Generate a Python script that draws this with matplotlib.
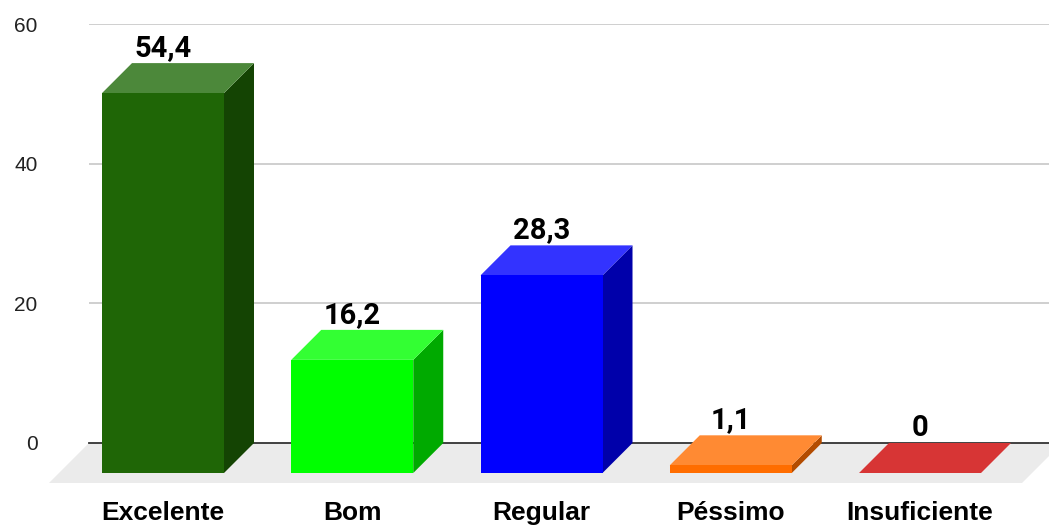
import matplotlib
matplotlib.use('Agg')
import matplotlib.pyplot as plt
from matplotlib.patches import Polygon, Rectangle

# data
categories = ['Excelente', 'Bom', 'Regular', 'Péssimo', 'Insuficiente']
values = [54.4, 16.2, 28.3, 1.1, 0]
value_labels = ['54,4', '16,2', '28,3', '1,1', '0']
yticks = [0, 20, 40, 60]

# front / top / side colours for each bar
front_colors = ['#1f6606', '#00ff00', '#0000ff', '#ff6d00', '#d73535']
top_colors = ['#4c883a', '#33ff33', '#3333ff', '#ff8a33', '#d73535']
side_colors = ['#144403', '#00aa00', '#0000aa', '#b34c00', '#a02525']

W, H = 1049, 525
fig = plt.figure(figsize=(W / 100, H / 100), dpi=100)
fig.patch.set_facecolor('white')

# back plane of the 3d box: y=0 at px 443, y=60 at px 24
ax = fig.add_axes([89 / W, (H - 443) / H, 960 / W, (443 - 24) / H])
ax.set_xlim(-0.5495, 4.523)
ax.set_ylim(0, 60)
for s in ax.spines.values():
    s.set_visible(False)

# pixel -> data unit conversion
p0 = ax.transData.transform((0, 0))
p1 = ax.transData.transform((1, 1))
px_x = p1[0] - p0[0]
px_y = p1[1] - p0[1]
dx = 30 / px_x   # depth of bars
dy = 30 / px_y
bw = 122 / px_x  # bar width

# gridlines
for t in yticks[1:]:
    ax.axhline(t, color='#cccccc', lw=1.3, zorder=1)

# floor
fd_x = 40 / px_x
fd_y = 40 / px_y
x0, x1 = ax.get_xlim()
floor = Polygon([(x0, 0), (x1 + 13 / px_x, 0), (x1 + 13 / px_x - fd_x, -fd_y), (x0 - fd_x, -fd_y)],
                closed=True, facecolor='#ebebeb', edgecolor='none', zorder=1, clip_on=False)
ax.add_patch(floor)
ax.axhline(0, color='#333333', lw=1.3, zorder=2, clip_on=False)

# bars
for i, v in enumerate(values):
    xl = i - bw / 2 - dx
    xr = xl + bw
    side = Polygon([(xr, -dy), (xr + dx, 0), (xr + dx, v), (xr, v - dy)],
                   closed=True, facecolor=side_colors[i], edgecolor='none', zorder=3, clip_on=False)
    top = Polygon([(xl, v - dy), (xr, v - dy), (xr + dx, v), (xl + dx, v)],
                  closed=True, facecolor=top_colors[i], edgecolor='none', zorder=4, clip_on=False)
    front = Rectangle((xl, -dy), bw, v, facecolor=front_colors[i], edgecolor='none', zorder=5, clip_on=False)
    ax.add_patch(side)
    ax.add_patch(top)
    ax.add_patch(front)

    # value label above the bar
    ax.annotate(value_labels[i], xy=(i - dx, v), xytext=(0, 5), textcoords='offset points',
                ha='center', va='baseline', fontsize=21, fontweight='bold',
                family='Roboto', color='#000000', zorder=6, annotation_clip=False)
    # category label under the bar
    ax.annotate(categories[i], xy=(i - dx, 0), xytext=(0, -50.5), textcoords='offset points',
                ha='center', va='center', fontsize=19, fontweight='bold',
                family='Liberation Sans', color='#000000', annotation_clip=False)

ax.set_xticks([])
ax.set_yticks(yticks)
ax.set_yticklabels([str(t) for t in yticks], family='Liberation Sans', fontsize=15, color='#222222')
ax.tick_params(axis='y', length=0, pad=37)

fig.savefig('out.png', dpi=100, facecolor='white')
